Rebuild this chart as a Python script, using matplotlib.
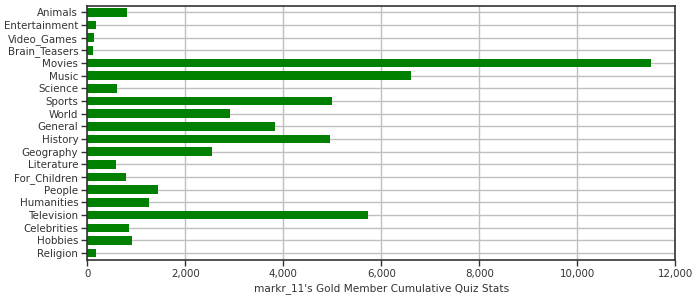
import matplotlib
matplotlib.use("Agg")
import matplotlib.pyplot as plt
from matplotlib.ticker import FuncFormatter

categories = ["Animals", "Entertainment", "Video_Games", "Brain_Teasers", "Movies",
              "Music", "Science", "Sports", "World", "General", "History", "Geography",
              "Literature", "For_Children", "People", "Humanities", "Television",
              "Celebrities", "Hobbies", "Religion"]
values = [810, 178, 137, 116, 11504, 6604, 606, 4994, 2912, 3831, 4953, 2545,
          586, 790, 1443, 1259, 5729, 851, 912, 178]
x_ticks = [0, 2000, 4000, 6000, 8000, 10000, 12000]
x_label = "markr_11's Gold Member Cumulative Quiz Stats"

plt.rcParams['font.family'] = ['DejaVu Sans']
fig = plt.figure(figsize=(7, 3), dpi=100)
ax = fig.add_axes([0.1247, 0.135, 0.84, 0.845])

pos = list(range(len(categories)))
ax.barh(pos, values, height=0.68, color="#008000", zorder=2)
ax.set_ylim(len(categories) - 0.5, -0.5)
ax.set_xlim(0, 12000)
ax.set_yticks(pos)
ax.set_yticklabels(categories)
ax.set_xticks(x_ticks)
ax.xaxis.set_major_formatter(FuncFormatter(lambda v, p: f"{int(v):,}"))
ax.grid(True, color="#c0c0c0", linewidth=1, zorder=0)
ax.set_axisbelow(True)
for s in ax.spines.values():
    s.set_color("#333333")
    s.set_linewidth(1.2)
ax.tick_params(axis="both", colors="#333333", labelcolor="#333333", labelsize=7.4,
               length=4, width=1, pad=2.5)
ax.set_xlabel(x_label, fontsize=7.6, color="#333333", labelpad=3)
fig.savefig("out.png", dpi=100)
